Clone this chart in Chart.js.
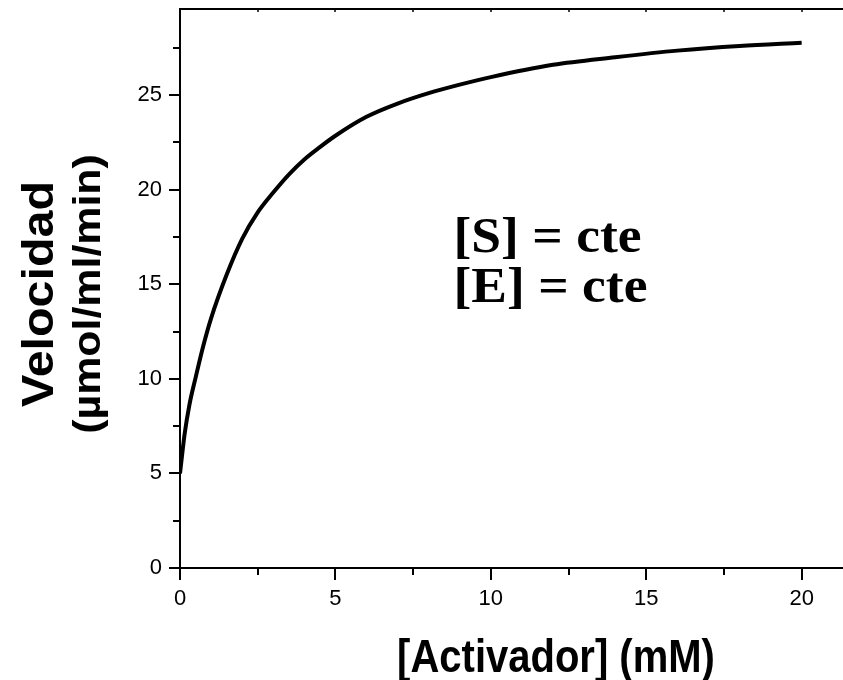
<!DOCTYPE html>
<html>
<head>
<meta charset="utf-8">
<script src="https://cdn.jsdelivr.net/npm/chart.js@4"></script>
<style>
  body { margin: 0; background: #fff; }
  #wrap { width: 843px; height: 680px; }
</style>
</head>
<body>
<div id="wrap"><canvas id="grafico" width="843" height="680"></canvas></div>
<script>
// valores
const activador = [0, 0.15, 0.3, 0.5, 0.75, 1, 1.5, 2, 2.5, 3, 3.5, 4, 4.5, 5, 6, 7, 8, 9, 10, 12, 14, 16, 18, 20];
const velocidad = [5, 7.1, 8.6, 10.05, 11.75, 13.2, 15.5, 17.4, 18.8, 19.85, 20.8, 21.6, 22.25, 22.85, 23.85, 24.55, 25.1, 25.55, 25.95, 26.6, 27.0, 27.35, 27.6, 27.77];

const xTicks = [0, 2.5, 5, 7.5, 10, 12.5, 15, 17.5, 20];
const xTickLabels = ['0', '5', '10', '15', '20'];
const yTicks = [0, 2.5, 5, 7.5, 10, 12.5, 15, 17.5, 20, 22.5, 25, 27.5];
const yTickLabels = ['0', '5', '10', '15', '20', '25'];

const xTitulo = '[Activador] (mM)';
const yTitulo = ['Velocidad', '(\u00b5mol/ml/min)'];
const notas = ['[S] = cte', '[E] = cte'];

const sans = "'Liberation Sans', Arial, sans-serif";
const serif = "'Liberation Serif', 'Times New Roman', serif";

const puntos = activador.map((x, i) => ({ x: x, y: velocidad[i] }));

// ticks, marco superior y textos
const decorado = {
  id: 'decorado',
  afterDraw(chart) {
    const ctx = chart.ctx;
    const a = chart.chartArea;
    const sx = chart.scales.x;
    const sy = chart.scales.y;
    ctx.save();
    ctx.strokeStyle = '#000';
    ctx.lineWidth = 2;
    ctx.beginPath();
    ctx.moveTo(a.left - 1, a.top);
    ctx.lineTo(a.right, a.top);
    ctx.stroke();

    xTicks.forEach(v => {
      const px = Math.round(sx.getPixelForValue(v));
      const largo = v % 5 === 0 ? 12 : 7;
      ctx.beginPath();
      ctx.moveTo(px, a.bottom);
      ctx.lineTo(px, a.bottom + largo);
      ctx.stroke();
    });
    yTicks.forEach(v => {
      const py = Math.round(sy.getPixelForValue(v));
      const largo = v % 5 === 0 ? 11 : 7;
      ctx.beginPath();
      ctx.moveTo(a.left, py);
      ctx.lineTo(a.left - largo, py);
      ctx.stroke();
    });
    ctx.lineWidth = 1.5;
    xTicks.forEach(v => {
      const px = Math.round(sx.getPixelForValue(v));
      ctx.beginPath();
      ctx.moveTo(px, a.top);
      ctx.lineTo(px, a.top + 3);
      ctx.stroke();
    });

    ctx.fillStyle = '#000';
    ctx.textBaseline = 'alphabetic';
    // titulo eje x (algo estirado en vertical, como el original)
    ctx.save();
    ctx.translate(556, 672);
    ctx.scale(1, 1.15);
    ctx.font = 'bold 40px ' + sans;
    ctx.textAlign = 'center';
    ctx.fillText(xTitulo, 0, 0);
    ctx.restore();

    // titulo eje y
    ctx.save();
    ctx.translate(53, 294);
    ctx.rotate(-Math.PI / 2);
    ctx.scale(1.1, 1);
    ctx.textAlign = 'center';
    ctx.font = 'bold 44px ' + sans;
    ctx.fillText(yTitulo[0], 0, 0);
    ctx.font = 'bold 39px ' + sans;
    ctx.fillText(yTitulo[1], 0, 47);
    ctx.restore();

    // notas
    ctx.save();
    ctx.font = 'bold 50px ' + serif;
    ctx.textAlign = 'left';
    const nx = sx.getPixelForValue(8.8);
    [0, 1].forEach(i => {
      const ny = sy.getPixelForValue(i === 0 ? 16.7 : 14.05);
      ctx.save();
      ctx.translate(nx, ny);
      ctx.scale(1.07, 1);
      ctx.fillText(notas[i], 0, 0);
      ctx.restore();
    });
    ctx.restore();
    ctx.restore();
  }
};

const sinRelleno = s => {
  s.paddingTop = 0;
  s.paddingBottom = 0;
  s.paddingLeft = 0;
  s.paddingRight = 0;
};

new Chart(document.getElementById('grafico'), {
  type: 'scatter',
  data: {
    datasets: [{
      data: puntos,
      showLine: true,
      borderColor: '#000',
      borderWidth: 4,
      pointRadius: 0,
      fill: false,
      cubicInterpolationMode: 'monotone'
    }]
  },
  options: {
    responsive: false,
    animation: false,
    events: [],
    layout: { padding: { top: 9, right: 0, left: 0, bottom: 0 } },
    plugins: { legend: { display: false }, tooltip: { enabled: false } },
    scales: {
      x: {
        type: 'linear',
        min: 0,
        max: 21.33,
        afterFit: s => { s.height = 112; sinRelleno(s); },
        afterBuildTicks: s => { s.ticks = [0, 5, 10, 15, 20].map(v => ({ value: v })); },
        grid: { display: false, drawTicks: false },
        border: { display: true, color: '#000', width: 2 },
        ticks: {
          color: '#000',
          font: { family: sans, size: 22 },
          padding: 18,
          maxRotation: 0,
          callback: (v, i) => xTickLabels[i]
        }
      },
      y: {
        type: 'linear',
        min: 0,
        max: 29.55,
        afterFit: s => { s.width = 180; sinRelleno(s); },
        afterBuildTicks: s => { s.ticks = [0, 5, 10, 15, 20, 25].map(v => ({ value: v })); },
        grid: { display: false, drawTicks: false },
        border: { display: true, color: '#000', width: 2 },
        ticks: {
          color: '#000',
          font: { family: sans, size: 22 },
          padding: 18,
          callback: (v, i) => yTickLabels[i]
        }
      }
    }
  },
  plugins: [decorado]
});
</script>
</body>
</html>
